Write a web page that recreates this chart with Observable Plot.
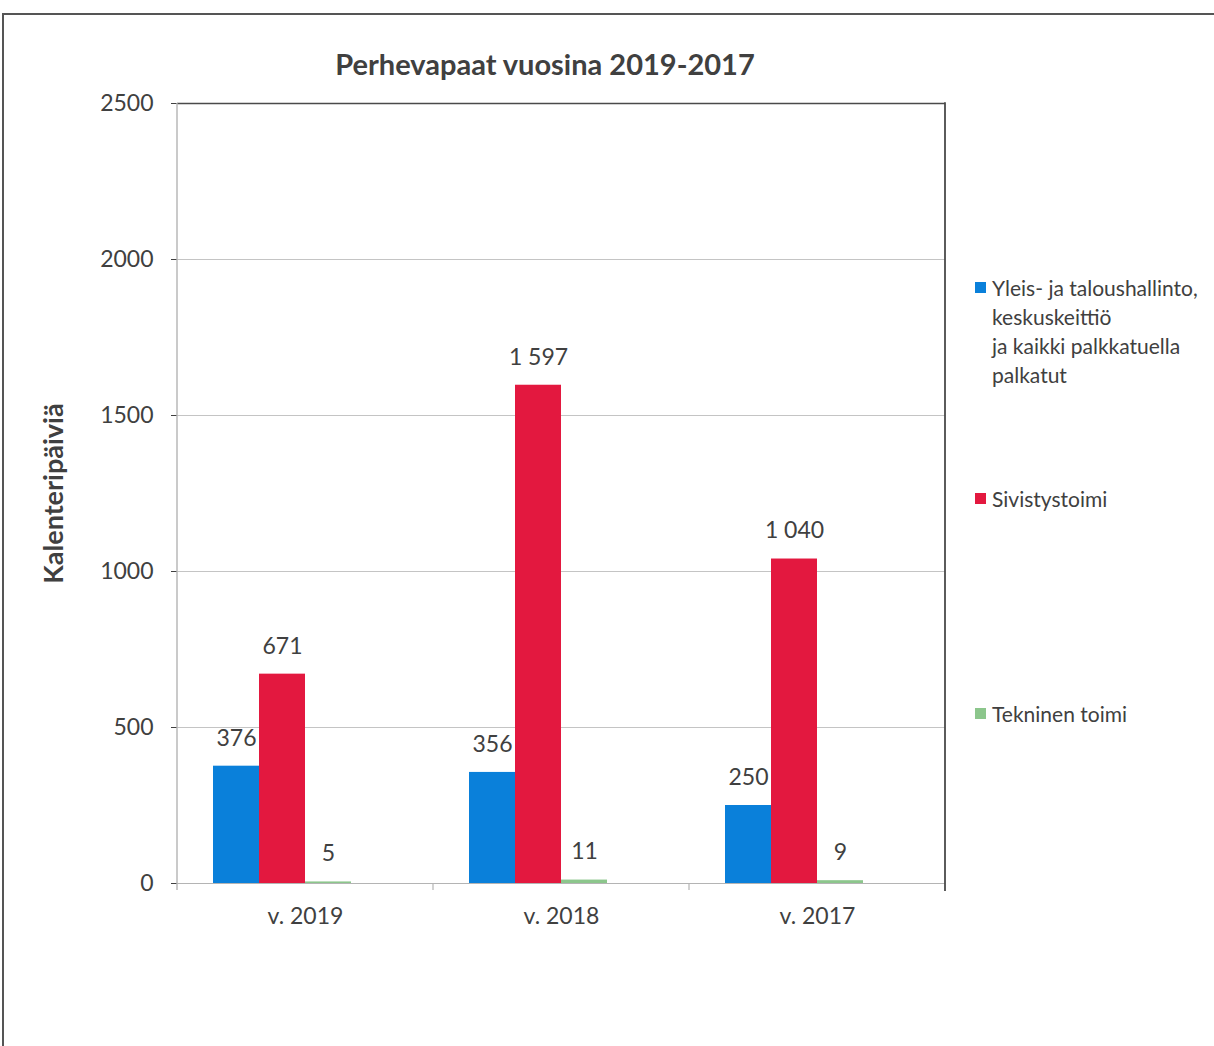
<!DOCTYPE html>
<html>
<head>
<meta charset="utf-8">
<script src="https://cdn.jsdelivr.net/npm/d3@7"></script>
<script src="https://cdn.jsdelivr.net/npm/@observablehq/plot@0.6"></script>
<style>
  html, body { margin: 0; padding: 0; background: #fff; }
  body { width: 1214px; height: 1046px; overflow: hidden; position: relative; font-family: Lato, "Open Sans", sans-serif; color: #404040; }
  #frame { position: absolute; left: 2px; top: 13px; width: 1300px; height: 1100px; border-left: 2px solid #555; border-top: 2px solid #555; }
  #title { position: absolute; left: 0; width: 1090px; top: 46px; text-align: center; font-weight: bold; font-size: 29px; color: #404040; }
  #chart { position: absolute; left: 0; top: 85px; }
  #legend { position: absolute; left: 0; top: 0; width: 1214px; }
  .item { position: absolute; left: 975px; font-size: 21px; line-height: 29px; white-space: pre; padding-left: 17px; color: #404040; }
  .sw { position: absolute; left: 0; top: 9px; width: 11px; height: 11px; }
  g[aria-label="y-axis tick"] { stroke: #b4b4b4; }
  g[aria-label="y-axis label"] { font-weight: bold; font-size: 27px; }
</style>
</head>
<body>
<div id="frame"></div>
<div id="title">Perhevapaat vuosina 2019-2017</div>
<div id="chart"></div>
<div id="legend"></div>
<script>
const years = ["v. 2019", "v. 2018", "v. 2017"];
const series = [
  "Yleis- ja taloushallinto, keskuskeittiö ja kaikki palkkatuella palkatut",
  "Sivistystoimi",
  "Tekninen toimi"
];
const legendLabels = [
  "Yleis- ja taloushallinto,\nkeskuskeittiö\nja kaikki palkkatuella\npalkatut",
  "Sivistystoimi",
  "Tekninen toimi"
];
const yleis = [376, 356, 250];
const sivistys = [671, 1597, 1040];
const tekninen = [5, 11, 9];
const yTicks = [0, 500, 1000, 1500, 2000, 2500];
const colors = ["#0a80da", "#e3183f", "#8cc68c"];
const legendTops = [273, 484, 699];

const values = [yleis, sivistys, tekninen];
const rows = [];
years.forEach((yr, i) => series.forEach((s, j) => rows.push({year: yr, series: s, value: values[j][i]})));

const fmt = d3.formatLocale({decimal: ",", thousands: " ", grouping: [3], currency: ["", "€"]}).format(",d");

const chart = Plot.plot({
  width: 960,
  height: 858,
  marginLeft: 176,
  marginRight: 15,
  marginTop: 18,
  marginBottom: 60,
  style: {fontFamily: "Lato, 'Open Sans', sans-serif", fontSize: "23px", color: "#404040", background: "transparent"},
  fx: {domain: years, padding: 0, label: null, tickSize: 0, tickPadding: 24},
  x: {domain: [...series, "_"], paddingInner: 0, paddingOuter: 0.74, axis: null},
  y: {domain: [0, 2500], ticks: yTicks, tickFormat: "d", tickSize: 6, tickPadding: 18,
      label: "Kalenteripäiviä", labelAnchor: "center", labelOffset: 134, labelArrow: false},
  color: {domain: series, range: colors},
  marks: [
    Plot.ruleY(yTicks.slice(1, -1), {stroke: "#c4c4c4", strokeWidth: 1.2}),
    Plot.ruleY([0], {stroke: "#b4b4b4", strokeWidth: 1.2}),
    Plot.ruleY([2500], {stroke: "#4a4a4a", strokeWidth: 1.6}),
    Plot.barY(rows, {fx: "year", x: "series", y: "value", fill: "series", inset: 0}),
    Plot.text(rows, {fx: "year", x: "series", y: "value", text: d => fmt(d.value), dy: -28, fontSize: 23, fill: "#404040"})
  ]
});
document.getElementById("chart").appendChild(chart);

// frame lines derived from the plot's own scales
const fxs = chart.scale("fx");
const ys = chart.scale("y");
const svg = d3.select(chart);
const left = fxs.apply(years[0]);
const right = fxs.apply(years[years.length - 1]) + fxs.bandwidth;
const y0 = ys.apply(0), yTop = ys.apply(2500);
const g = svg.append("g");
g.append("line").attr("x1", left).attr("x2", left).attr("y1", yTop).attr("y2", y0 + 7)
  .attr("stroke", "#b4b4b4").attr("stroke-width", 1.4);
g.append("line").attr("x1", right).attr("x2", right).attr("y1", yTop - 0.8).attr("y2", y0 + 8)
  .attr("stroke", "#4a4a4a").attr("stroke-width", 1.8);
years.slice(1).forEach(yr => {
  const x = fxs.apply(yr);
  g.append("line").attr("x1", x).attr("x2", x).attr("y1", y0).attr("y2", y0 + 7)
    .attr("stroke", "#b4b4b4").attr("stroke-width", 1.2);
});

// legend
const legend = document.getElementById("legend");
legendLabels.forEach((lab, i) => {
  const d = document.createElement("div");
  d.className = "item";
  d.style.top = legendTops[i] + "px";
  d.textContent = lab;
  const sw = document.createElement("span");
  sw.className = "sw";
  sw.style.background = colors[i];
  d.appendChild(sw);
  legend.appendChild(d);
});
</script>
</body>
</html>
